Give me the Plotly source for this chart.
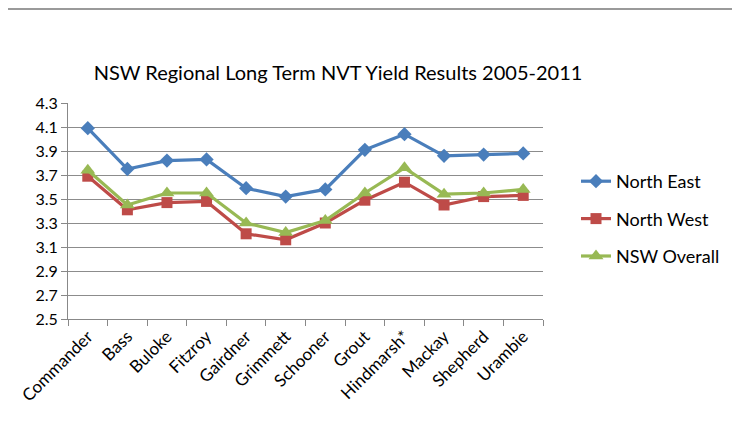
import plotly.graph_objects as go

categories = ["Commander", "Bass", "Buloke", "Fitzroy", "Gairdner", "Grimmett",
              "Schooner", "Grout", "Hindmarsh*", "Mackay", "Shepherd", "Urambie"]
north_east = [4.09, 3.75, 3.82, 3.83, 3.59, 3.52, 3.58, 3.91, 4.04, 3.86, 3.87, 3.88]
north_west = [3.69, 3.41, 3.47, 3.48, 3.21, 3.16, 3.30, 3.49, 3.64, 3.45, 3.52, 3.53]
nsw_overall = [3.74, 3.45, 3.55, 3.55, 3.30, 3.22, 3.32, 3.55, 3.76, 3.54, 3.55, 3.58]
y_ticks = [2.5, 2.7, 2.9, 3.1, 3.3, 3.5, 3.7, 3.9, 4.1, 4.3]

FONT = "Lato"
# page body adds an 8px offset; margins compensate for it
L, T, PW, PH = 60, 95, 475, 216
fig = go.Figure()
series = [
    ("North East", north_east, "#4A7EBB", "diamond", 11),
    ("North West", north_west, "#BE4B48", "square", 11),
    ("NSW Overall", nsw_overall, "#98B954", "triangle-up", 13),
]
for i, (name, vals, col, sym, sz) in enumerate(series):
    fig.add_trace(go.Scatter(
        x=categories, y=vals, name=name, mode="lines+markers",
        line=dict(color=col, width=3.2),
        marker=dict(symbol=sym, size=sz, color=col),
        legendgroup=str(i),
    ))

fig.update_layout(
    width=740, height=425,
    margin=dict(l=L, r=740 - L - PW, t=T, b=425 - T - PH, autoexpand=False),
    paper_bgcolor="white", plot_bgcolor="white",
    font=dict(family=FONT, size=16, color="#000000"),
    title=dict(text="NSW Regional Long Term NVT Yield Results 2005-2011",
               x=330 / 740, xanchor="center", y=1 - (73 - 8) / 425, yanchor="middle",
               font=dict(family=FONT, size=20, color="#000000")),
    showlegend=True,
    legend=dict(x=(576 - 68) / PW, xanchor="left", y=(319 - 163) / PH, yanchor="top",
                font=dict(family=FONT, size=18), tracegroupgap=11,
                bgcolor="rgba(0,0,0,0)"),
    shapes=[
        dict(type="line", xref="paper", yref="paper",
             x0=-(L + 10) / PW, x1=(750 - L) / PW,
             y0=1 + (103 - 9) / PH, y1=1 + (103 - 9) / PH,
             line=dict(color="#9a9a9a", width=2)),
    ],
)
fig.update_xaxes(
    type="category", range=[-0.5, len(categories) - 0.5],
    tickangle=-45, tickson="boundaries", automargin=False,
    ticks="outside", ticklen=6, tickcolor="#888888",
    showline=True, linecolor="#888888", linewidth=1,
    showgrid=False, tickfont=dict(family=FONT, size=17),
)
fig.update_yaxes(
    range=[2.5, 4.3], tickvals=y_ticks, ticktext=[f"{v:.1f}" for v in y_ticks],
    ticks="outside", ticklen=6, tickcolor="#888888", automargin=False,
    showline=True, linecolor="#888888", linewidth=1,
    showgrid=True, gridcolor="#8c8c8c", gridwidth=1,
    zeroline=False, tickfont=dict(family=FONT, size=16),
)
fig.write_html("out.html")
